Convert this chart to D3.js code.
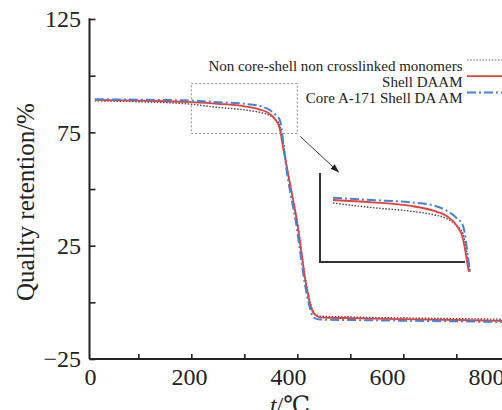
<!DOCTYPE html>
<html lang="en">
<head>
<meta charset="UTF-8">
<title>TGA curves</title>
<script src="https://cdn.jsdelivr.net/npm/d3@7"></script>
<style>
  body { margin: 0; background: #fff; }
  text { font-family: "Liberation Serif", "Times New Roman", "DejaVu Serif", serif; fill: #222; }
</style>
</head>
<body>
<svg></svg>
<script>
    // temperature (°C) and quality retention (%)
    const tempsRef   = [18, 100, 200, 250, 300, 330, 345, 358, 367, 374, 380, 386, 392, 399, 402, 408, 414, 421, 425, 430, 437, 443, 500, 600, 700, 800, 830];
    const nonCore    = [88.9, 88.5, 87.4, 86.0, 84.9, 83.8, 82.8, 80.8, 78.0, 69.5, 60.5, 53.0, 45.5, 37.0, 32.5, 22.5, 12.5, 3.5, -0.5, -4.0, -5.6, -6.1, -6.5, -6.9, -7.2, -7.5, -7.6];
    const shellDaam  = [89.3, 89.0, 88.3, 87.6, 86.5, 85.0, 83.6, 80.8, 76.5, 67.2, 59.8, 52.5, 45.2, 36.3, 31.9, 21.6, 11.3, 2.5, -1.5, -4.5, -6.0, -6.6, -7.0, -7.4, -7.8, -8.2, -8.3];
    const coreShell  = [89.6, 89.4, 89.0, 88.3, 87.6, 86.6, 85.2, 83.0, 80.5, 70.0, 58.0, 49.5, 42.0, 33.0, 28.0, 18.0, 8.5, 0.0, -3.5, -6.5, -7.3, -7.6, -7.8, -8.1, -8.4, -8.7, -8.8];

    const seriesNames = ['Non core-shell non crosslinked monomers', 'Shell DAAM', 'Core A-171 Shell DA AM'];
    const yTicks = [125, 100, 75, 50, 25, 0, -25];
    const yLabels = [125, 75, 25, -25];
    const xTicks = [0, 100, 200, 300, 400, 500, 600, 700, 800];
    const xLabels = [0, 200, 400, 600, 800];

    const width = 502, height = 410;
    const svg = d3.select('svg').attr('width', width).attr('height', height);

    const x = d3.scaleLinear().domain([0, 800]).range([85.3, 509.3]);
    const xLab = d3.scaleLinear().domain([0, 800]).range([90, 486]);   // labels sit a bit left of their ticks in the original
    const y = d3.scaleLinear().domain([-25, 125]).range([359, 19]);
    const axisX = 89.5;

    const styles = [
        { color: '#444', width: 1.4, dash: '1.5,1.6' },
        { color: '#ef3b3b', width: 1.8, dash: null },
        { color: '#4384d4', width: 2, dash: '9,3,2,3' }
    ];
    const series = [nonCore, shellDaam, coreShell].map((vals, i) => ({
        name: seriesNames[i],
        style: styles[i],
        values: vals.map((v, j) => ({ t: tempsRef[j], v }))
    }));

    // axes
    const gy = svg.append('g')
        .attr('transform', `translate(${axisX},0)`)
        .call(d3.axisLeft(y).tickValues(yTicks).tickSize(-6).tickSizeOuter(0).tickPadding(8.5)
            .tickFormat(d => yLabels.includes(d) ? (d < 0 ? '\u2212' + Math.abs(d) : d) : ''));
    gy.select('.domain').remove();
    gy.selectAll('.tick line').attr('stroke', '#222').attr('stroke-width', 1.6);
    gy.selectAll('.tick text').attr('font-size', 24).style('font-family', '"Liberation Serif", serif').attr('fill', '#222');
    svg.append('line').attr('x1', axisX).attr('x2', axisX).attr('y1', y(125) - 0.8).attr('y2', y(-25))
        .attr('stroke', '#222').attr('stroke-width', 2);

    const gx = svg.append('g')
        .attr('transform', `translate(0,${y(-25)})`)
        .call(d3.axisBottom(x).tickValues(xTicks).tickSize(-5).tickSizeOuter(0).tickPadding(9)
            .tickFormat(d => xLabels.includes(d) ? d : ''));
    gx.select('.domain').remove();
    gx.selectAll('.tick line').attr('stroke', '#222').attr('stroke-width', 1.6)
        .attr('display', d => d === 0 ? 'none' : null);
    gx.selectAll('.tick text').attr('font-size', 24).style('font-family', '"Liberation Serif", serif').attr('fill', '#222')
        .attr('x', d => xLab(d) - x(d));
    svg.append('line').attr('x1', axisX).attr('x2', width).attr('y1', y(-25)).attr('y2', y(-25))
        .attr('stroke', '#222').attr('stroke-width', 2);

    // axis titles
    svg.append('text')
        .attr('transform', `translate(33.5,${y(50) + 13}) rotate(-90)`)
        .attr('text-anchor', 'middle')
        .attr('font-size', 25)
        .text('Quality retention/%');
    const xt = svg.append('text')
        .attr('x', xLab(400) + 2).attr('y', 413)
        .attr('text-anchor', 'middle')
        .attr('font-size', 24);
    xt.append('tspan').attr('font-style', 'italic').text('t');
    xt.append('tspan').text('/\u2103');

    // curves
    const line = d3.line().x(d => x(d.t)).y(d => y(d.v)).curve(d3.curveMonotoneX);
    svg.append('g').selectAll('path')
        .data(series)
        .join('path')
        .attr('d', d => line(d.values))
        .attr('fill', 'none')
        .attr('stroke', d => d.style.color)
        .attr('stroke-width', d => d.style.width)
        .attr('stroke-dasharray', d => d.style.dash);

    // dashed zoom rectangle
    const zoomT = [200, 400], zoomV = [74.5, 96.5];
    svg.append('rect')
        .attr('x', x(zoomT[0])).attr('y', y(zoomV[1]))
        .attr('width', x(zoomT[1]) - x(zoomT[0])).attr('height', y(zoomV[0]) - y(zoomV[1]))
        .attr('fill', 'none').attr('stroke', '#888').attr('stroke-width', 1).attr('stroke-dasharray', '2,2');

    // arrow to inset
    svg.append('defs').append('marker')
        .attr('id', 'arrow').attr('viewBox', '0 0 10 10').attr('refX', 9).attr('refY', 5)
        .attr('markerWidth', 9).attr('markerHeight', 9).attr('orient', 'auto').attr('markerUnits', 'userSpaceOnUse')
        .append('path').attr('d', 'M0,1.5 L10,5 L0,8.5 Z').attr('fill', '#222');
    svg.append('line')
        .attr('x1', x(zoomT[1]) + 3).attr('y1', y(zoomV[0]) + 3)
        .attr('x2', 338.5).attr('y2', 172)
        .attr('stroke', '#333').attr('stroke-width', 1).attr('marker-end', 'url(#arrow)');

    // inset
    const inset = { left: 320, right: 465, top: 173, bottom: 262 };
    const ix = d3.scaleLinear().domain([200, 376]).range([333, 470]);
    const iy = d3.scaleLinear().domain([70, 90]).range([260.4, 194.4]);
    svg.append('clipPath').attr('id', 'insetClip')
        .append('rect').attr('x', inset.left).attr('y', inset.top).attr('width', 155).attr('height', 99);
    const iline = d3.line().x(d => ix(d.t)).y(d => iy(d.v)).curve(d3.curveMonotoneX);
    svg.append('g').attr('clip-path', 'url(#insetClip)')
        .selectAll('path')
        .data(series)
        .join('path')
        .attr('d', d => iline(d.values.filter(p => p.t >= 200 && p.t <= 392)))
        .attr('fill', 'none')
        .attr('stroke', d => d.style.color)
        .attr('stroke-width', d => d.style.width)
        .attr('stroke-dasharray', d => d.style.dash);
    svg.append('path')
        .attr('d', `M${inset.left},${inset.top}V${inset.bottom}H${inset.right}`)
        .attr('fill', 'none').attr('stroke', '#333').attr('stroke-width', 2);

    // legend
    const legend = svg.append('g').selectAll('g')
        .data(series)
        .join('g')
        .attr('transform', (d, i) => `translate(0,${71 + i * 16.2})`);
    legend.append('text')
        .attr('x', 462.5)
        .attr('text-anchor', 'end')
        .attr('font-size', 15)
        .text(d => d.name);
    legend.append('line')
        .attr('x1', 467).attr('x2', 530).attr('y1', -11).attr('y2', -11)
        .attr('stroke', (d, i) => i === 0 ? '#999' : d.style.color)
        .attr('stroke-width', d => d.style.width)
        .attr('stroke-dasharray', d => d.style.dash);
</script>
</body>
</html>
